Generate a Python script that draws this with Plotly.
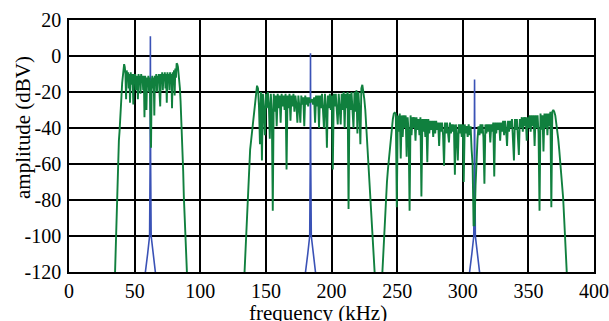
import numpy as np
import plotly.graph_objects as go

# ---- data ----
# green spectrum, band 1: sampled from 34.5 kHz every 0.5 kHz
band1_start = 34.5
band1_step = 0.5
band1_amp = [
    -135, -122, -106, -92, -78, -63, -54, -47, -42, -37, -30, -22, -15, -10, -6, -4.5,
    -6, -10, -24, -8, -14, -9, -18, -10, -26, -9, -16, -10, -13, -27, -10, -15, -10, -19,
    -11, -14, -24, -10, -16, -11, -21, -10, -15, -11, -19, -11, -34, -11, -17, -30, -12,
    -16, -11, -20, -12, -40, -51, -14, -11, -18, -12, -33, -11, -16, -10, -20, -11, -15,
    -10, -21, -28, -10, -15, -9, -19, -10, -14, -9, -18, -10, -26, -9, -15, -10, -19, -9,
    -14, -10, -29, -9, -16, -8, -22, -7, -12,
    -4, -4.5, -6, -9, -13, -18, -25, -33, -40, -53, -64, -78, -89, -100, -109, -116, -123,
]

# band 2: sampled from 133.5 kHz every 0.75 kHz
band2_start = 133.5
band2_step = 0.75
band2_amp = [
    -124, -112, -95, -80, -68, -58, -52, -47, -42, -36, -30, -25, -20, -16.5,
    -18, -28, -49, -20, -58, -21, -30, -44, -21, -29, -20, -27, -46, -21, -30, -86,
    -21, -31, -22, -39, -21, -29, -22, -37, -21, -28, -22, -30, -21, -63, -22, -29,
    -21, -36, -22, -28, -21, -31, -22, -27, -37, -22, -28, -37, -22, -27, -23, -39,
    -22, -27, -23, -28, -23, -26, -25, -24, -27, -23, -37, -22, -28, -22, -40, -22,
    -29, -21, -30, -40, -21, -28, -51, -22, -29, -21, -30, -22, -63, -21, -28, -21,
    -30, -38, -21, -29, -38, -21, -30, -20, -40, -21, -29, -20, -85, -21, -30, -20,
    -28, -40, -20, -31, -19, -43, -20, -30, -49, -18,
    -16, -19, -24, -30, -39, -50, -61, -72, -82, -91, -100, -109, -117, -125,
]

# band 3: sampled from 238.5 kHz every 0.75 kHz
band3_start = 238.5
band3_step = 0.75
band3_amp = [
    -124, -112, -100, -88, -78, -70, -63, -57, -50, -44, -39, -35, -32, -31.5,
    -32, -84, -33, -42, -32, -57, -33, -45, -33, -40, -33, -56, -34, -42, -86, -33,
    -44, -34, -40, -34, -47, -34, -41, -35, -44, -34, -78, -35, -42, -35, -45, -35,
    -59, -35, -43, -36, -41, -36, -45, -36, -43, -36, -41, -37, -50, -37, -42, -37,
    -44, -61, -37, -43, -37, -41, -48, -37, -43, -38, -42, -38, -66, -38, -44, -58,
    -38, -43, -38, -45, -38, -70, -38, -43, -39, -45, -38, -44, -39, -52, -60, -94,
    -94, -72, -56, -46, -39, -44, -38, -43, -38, -45, -71, -38, -43, -38, -42, -38,
    -48, -38, -42, -37, -67, -37, -43, -37, -41, -37, -47, -37, -42, -36, -44, -36,
    -41, -50, -36, -42, -36, -40, -35, -44, -58, -35, -41, -35, -44, -55, -35, -40,
    -34, -42, -34, -39, -34, -47, -34, -40, -33, -42, -33, -39, -33, -50, -33, -40,
    -33, -43, -86, -32, -41, -33, -53, -32, -40, -32, -44, -32, -39, -31, -84, -31,
    -30,
    -31, -33, -37, -40, -46, -52, -58, -65, -72, -79, -90, -101, -112, -124,
]

# blue carrier spikes
spike1_f = [57.5, 58.2, 59.9, 61.4, 61.8, 62.0, 62.2, 62.6, 64.1, 65.8, 66.5]
spike1_a = [-135, -120, -110, -100, -60, 11, -60, -100, -110, -120, -135]
spike2_f = [179.5, 180.2, 181.9, 183.4, 183.8, 184.0, 184.2, 184.6, 186.1, 187.8, 188.5]
spike2_a = [-135, -120, -110, -100, -60, 1.5, -60, -100, -110, -120, -135]
spike3_f = [304.5, 305.2, 306.9, 308.4, 308.8, 309.0, 309.2, 309.6, 311.1, 312.8, 313.5]
spike3_a = [-135, -120, -110, -100, -60, -13, -60, -100, -110, -120, -135]

x_ticks = [0, 50, 100, 150, 200, 250, 300, 350, 400]
y_ticks = [20, 0, -20, -40, -60, -80, -100, -120]

GREEN = "rgb(16,128,62)"
BLUE = "rgb(58,82,182)"
SERIF = "Liberation Serif"
FS_TICK = 20
FS_TITLE = 21

fig = go.Figure()

for sf, sa in [(spike1_f, spike1_a), (spike2_f, spike2_a), (spike3_f, spike3_a)]:
    fig.add_trace(go.Scatter(x=sf, y=sa, mode="lines",
                             line=dict(color=BLUE, width=1.6),
                             showlegend=False, hoverinfo="skip"))

for start, step, amp in [(band1_start, band1_step, band1_amp),
                         (band2_start, band2_step, band2_amp),
                         (band3_start, band3_step, band3_amp)]:
    freqs = start + step * np.arange(len(amp))
    fig.add_trace(go.Scatter(x=freqs, y=amp, mode="lines",
                             line=dict(color=GREEN, width=1.9),
                             showlegend=False, hoverinfo="skip"))

axis_common = dict(
    showgrid=True, gridcolor="black", gridwidth=1.6,
    showline=True, linecolor="black", linewidth=1.6, mirror=True,
    zeroline=False, ticks="",
    tickfont=dict(family=SERIF, size=FS_TICK, color="black"),
)

fig.update_xaxes(range=[0, 400], tickvals=x_ticks, ticktext=[str(v) for v in x_ticks],
                 ticklabelstandoff=0, **axis_common)
fig.update_yaxes(range=[-120, 20], tickvals=y_ticks, ticktext=[str(v) for v in y_ticks],
                 ticklabelstandoff=2, **axis_common)

# axis titles placed as in the reference
fig.add_annotation(text="frequency (kHz)", xref="paper", yref="paper",
                   x=(318 - 69) / 524.5, y=(272 - 299) / 252,
                   xanchor="center", yanchor="top", showarrow=False,
                   font=dict(family=SERIF, size=FS_TITLE, color="black"))
fig.add_annotation(text="amplitude (dBV)", xref="paper", yref="paper",
                   x=(23 - 69) / 524.5, y=(272 - 127) / 252,
                   xanchor="center", yanchor="middle", textangle=-90, showarrow=False,
                   font=dict(family=SERIF, size=FS_TITLE, color="black"))

fig.update_layout(
    width=609, height=321,
    margin=dict(l=69, r=15, t=20, b=49, autoexpand=False),
    paper_bgcolor="white", plot_bgcolor="white",
    font=dict(family=SERIF, size=FS_TICK, color="black"),
)

fig.write_html("out.html")
